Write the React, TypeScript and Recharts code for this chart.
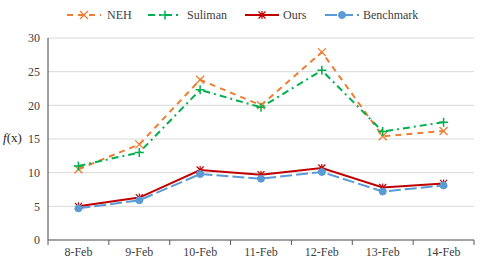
import { LineChart, Line, XAxis, YAxis, CartesianGrid } from "recharts";

const days = ["8-Feb", "9-Feb", "10-Feb", "11-Feb", "12-Feb", "13-Feb", "14-Feb"];
const neh = [10.5, 14.2, 23.8, 20.0, 27.9, 15.4, 16.2];
const suliman = [11.0, 13.0, 22.3, 19.7, 25.2, 16.1, 17.5];
const ours = [5.0, 6.3, 10.4, 9.7, 10.7, 7.8, 8.4];
const benchmark = [4.7, 5.9, 9.8, 9.1, 10.1, 7.2, 8.1];
const yTicks = [0, 5, 10, 15, 20, 25, 30];

const data = days.map((d, i) => ({
  day: d,
  neh: neh[i],
  suliman: suliman[i],
  ours: ours[i],
  benchmark: benchmark[i],
}));

const FONT = "Times New Roman, Liberation Serif, serif";
const LEFT = 48;
const RIGHT = 474;
const BAND = (RIGHT - LEFT) / days.length;

const Cross = (props: any) => {
  const { cx, cy, key } = props;
  const s = 4;
  return (
    <path key={key} d={`M${cx - s},${cy - s}L${cx + s},${cy + s}M${cx - s},${cy + s}L${cx + s},${cy - s}`} stroke="#ED7D31" strokeWidth={1.3} fill="none" />
  );
};
const Plus = (props: any) => {
  const { cx, cy, key } = props;
  const s = 4.5;
  return <path key={key} d={`M${cx - s},${cy}L${cx + s},${cy}M${cx},${cy - s}L${cx},${cy + s}`} stroke="#00B050" strokeWidth={1.5} fill="none" />;
};
const Star = (props: any) => {
  const { cx, cy, key } = props;
  const s = 3.5;
  return (
    <path key={key} d={`M${cx - s},${cy - s}L${cx + s},${cy + s}M${cx - s},${cy + s}L${cx + s},${cy - s}M${cx},${cy - s - 0.5}L${cx},${cy + s + 0.5}`} stroke="#C00000" strokeWidth={1.2} fill="none" />
  );
};
const Circle = (props: any) => {
  const { cx, cy, key } = props;
  return <circle key={key} cx={cx} cy={cy} r={3.5} fill="#5B9BD5" stroke="#5B9BD5" />;
};

const XTick = (props: any) => {
  const { x, y, payload, index } = props;
  const left = x - BAND / 2;
  return (
    <g>
      <line x1={left} y1={y} x2={left} y2={y + 5} stroke="#595959" />
      {index === days.length - 1 && <line x1={left + BAND} y1={y} x2={left + BAND} y2={y + 5} stroke="#595959" />}
      <text x={x} y={y + 16} textAnchor="middle" fontSize={12} fontFamily={FONT} fill="#404040">
        {payload.value}
      </text>
    </g>
  );
};

const legendItems = [
  { name: "NEH", color: "#ED7D31", dash: "6 5", marker: "x", x0: 67, tx: 107 },
  { name: "Suliman", color: "#00B050", dash: "7 4 2 4", marker: "+", x0: 148, tx: 187 },
  { name: "Ours", color: "#C00000", dash: undefined, marker: "*", x0: 245, tx: 283 },
  { name: "Benchmark", color: "#5B9BD5", dash: "12 4", marker: "o", x0: 325, tx: 363 },
];

function LegendRow() {
  const y = 15;
  return (
    <svg width={482} height={30} style={{ position: "absolute", left: 0, top: 0 }}>
      {legendItems.map((it) => {
        const mid = it.x0 + 17;
        return (
          <g key={it.name}>
            <line x1={it.x0} y1={y} x2={it.x0 + 34} y2={y} stroke={it.color} strokeWidth={2} strokeDasharray={it.dash} />
            {it.marker === "x" && Cross({ cx: mid, cy: y })}
            {it.marker === "+" && Plus({ cx: mid, cy: y })}
            {it.marker === "*" && Star({ cx: mid, cy: y })}
            {it.marker === "o" && Circle({ cx: mid, cy: y })}
            <text x={it.tx} y={y + 4} fontSize={12} fontFamily={FONT} fill="#404040">
              {it.name}
            </text>
          </g>
        );
      })}
    </svg>
  );
}

export default function App() {
  return (
    <div style={{ position: "relative", width: 482, height: 264, background: "#fff", fontFamily: FONT }}>
      <style>{`body{margin:0}`}</style>
      <LineChart width={482} height={264} data={data} margin={{ top: 38, right: 8, left: 0, bottom: 0 }}>
        <CartesianGrid vertical={false} stroke="#D9D9D9" />
        <XAxis
          dataKey="day"
          scale="band"
          height={24}
          axisLine={{ stroke: "#595959" }}
          tickLine={false}
          tickSize={0}
          tickMargin={0}
          interval={0}
          tick={<XTick />}
        />
        <YAxis
          width={48}
          domain={[0, 30]}
          ticks={yTicks}
          axisLine={{ stroke: "#404040" }}
          tickLine={false}
          tick={{ fontSize: 12, fontFamily: FONT, fill: "#404040" }}
          tickMargin={2}
        />
        <Line dataKey="neh" stroke="#ED7D31" strokeWidth={2} strokeDasharray="6 5" dot={Cross} isAnimationActive={false} />
        <Line dataKey="suliman" stroke="#00B050" strokeWidth={2} strokeDasharray="7 4 2 4" dot={Plus} isAnimationActive={false} />
        <Line dataKey="ours" stroke="#C00000" strokeWidth={2} dot={Star} isAnimationActive={false} />
        <Line dataKey="benchmark" stroke="#5B9BD5" strokeWidth={2} strokeDasharray="12 4" dot={Circle} isAnimationActive={false} />
      </LineChart>
      <LegendRow />
      <div style={{ position: "absolute", left: 3, top: 130, fontSize: 13, color: "#262626", fontFamily: FONT }}>
        <i>f</i>(x)
      </div>
    </div>
  );
}
